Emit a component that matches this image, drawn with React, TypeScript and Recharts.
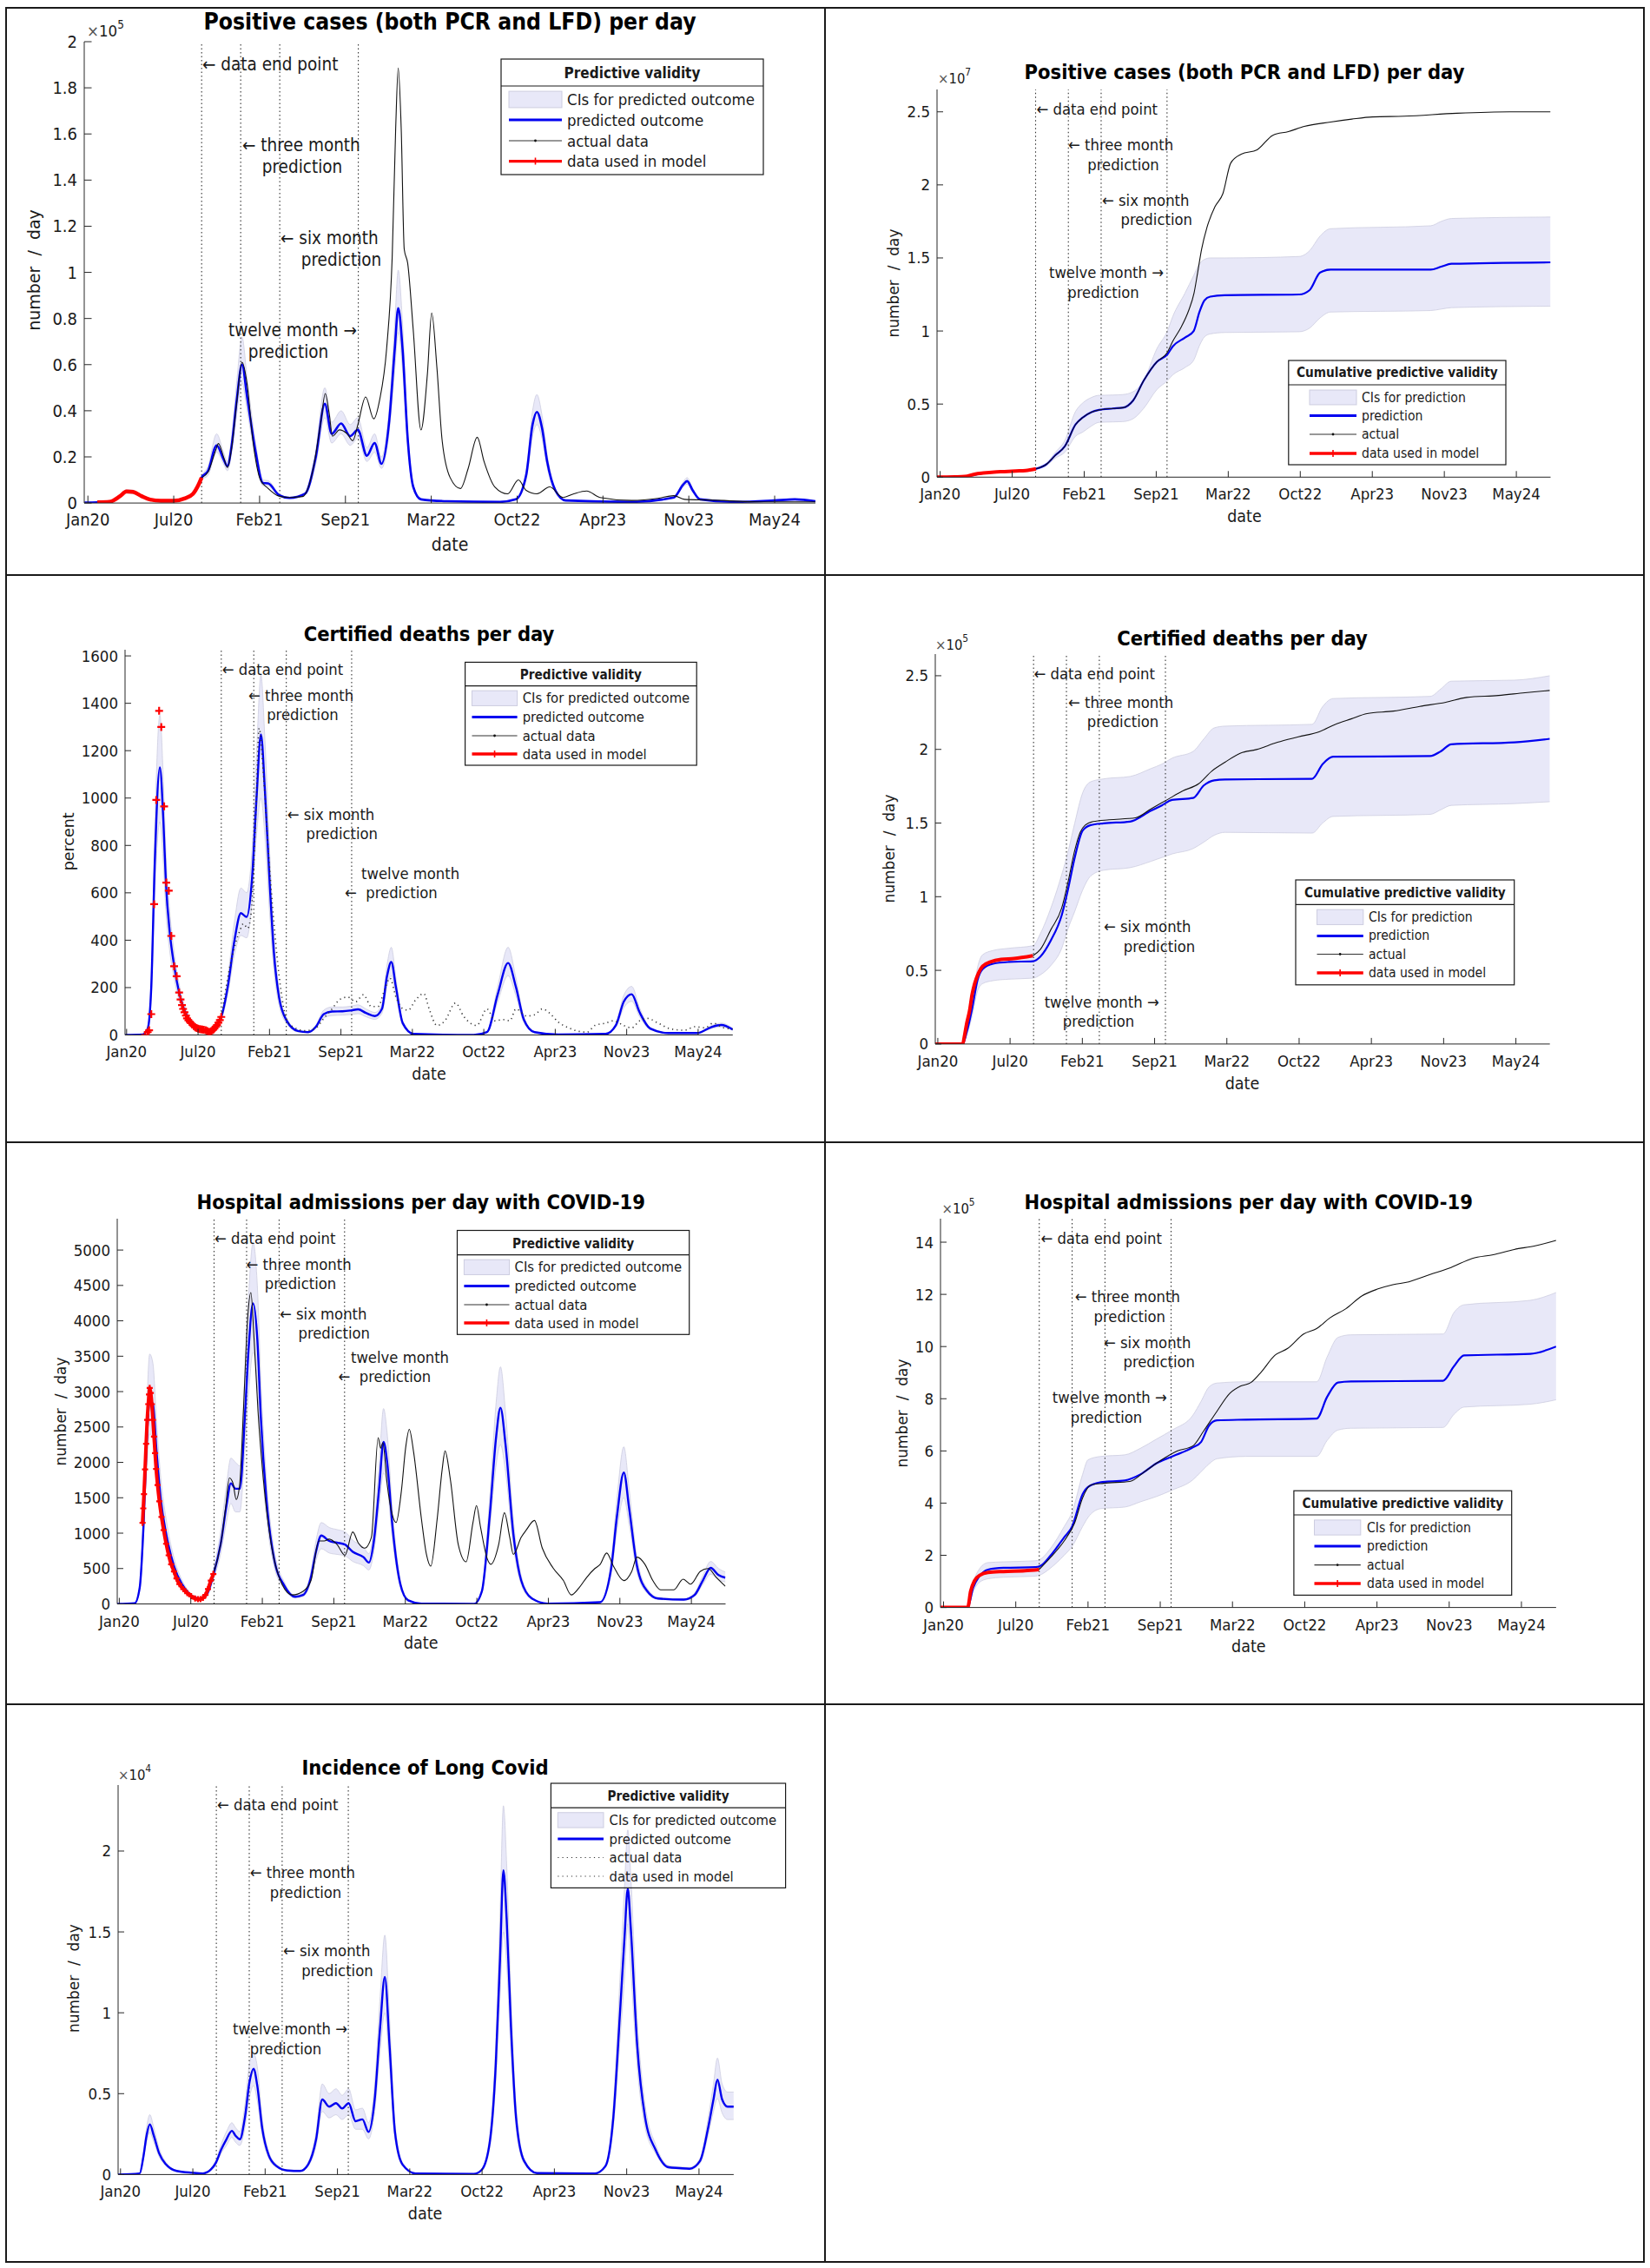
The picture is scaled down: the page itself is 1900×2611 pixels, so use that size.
import React from 'react';
import { Area, ComposedChart, Line, ReferenceLine, XAxis, YAxis } from 'recharts';

// ─── shared axis data ────────────────────────────────────────────────────────
// x is "days since 1 Jan 2020"
const xTickDays = [10, 210, 410, 610, 810, 1010, 1210, 1410, 1610];
const xTickLabels = ['Jan20', 'Jul20', 'Feb21', 'Sep21', 'Mar22', 'Oct22', 'Apr23', 'Nov23', 'May24'];
// data end point, then three, six and twelve month horizons
const milestoneDays = [275, 366, 457, 640];

type Pt = [number, number];
// day, predicted, CI low, CI high
type PredPt = [number, number, number, number];

// ─── positive cases per day (x1e5) ───────────────────────────────────────────
const casesUsed: Pt[] = [
  [32, 0.003], [60, 0.005], [85, 0.03], [100, 0.05], [115, 0.048], [135, 0.03], [155, 0.015],
  [180, 0.01], [210, 0.01], [235, 0.02], [255, 0.04], [268, 0.08], [275, 0.11],
];
const casesPred: PredPt[] = [
  [2, 0.002, 0.002, 0.002], [32, 0.003, 0.003, 0.004], [60, 0.005, 0.004, 0.006], [85, 0.03, 0.025, 0.035],
  [100, 0.05, 0.042, 0.058], [115, 0.048, 0.04, 0.056], [135, 0.03, 0.025, 0.035], [155, 0.015, 0.013, 0.018],
  [180, 0.01, 0.008, 0.012], [210, 0.01, 0.008, 0.012], [235, 0.02, 0.017, 0.024], [255, 0.04, 0.034, 0.047],
  [268, 0.08, 0.07, 0.09], [275, 0.11, 0.1, 0.12], [290, 0.14, 0.12, 0.16], [310, 0.25, 0.22, 0.3],
  [326, 0.19, 0.17, 0.22], [335, 0.16, 0.14, 0.18], [345, 0.25, 0.22, 0.29], [357, 0.45, 0.39, 0.53],
  [369, 0.6, 0.52, 0.72], [381, 0.46, 0.4, 0.54], [400, 0.23, 0.2, 0.27], [418, 0.087, 0.075, 0.1],
  [430, 0.085, 0.074, 0.097], [455, 0.035, 0.03, 0.04], [480, 0.022, 0.019, 0.026], [516, 0.04, 0.035, 0.046],
  [541, 0.2, 0.17, 0.23], [562, 0.43, 0.37, 0.5], [578, 0.3, 0.26, 0.35], [600, 0.345, 0.3, 0.4],
  [621, 0.29, 0.25, 0.34], [639, 0.317, 0.28, 0.37], [660, 0.205, 0.18, 0.24], [678, 0.26, 0.22, 0.3],
  [694, 0.17, 0.15, 0.2], [712, 0.356, 0.31, 0.41], [725, 0.67, 0.58, 0.78], [733, 0.845, 0.74, 1.01],
  [743, 0.67, 0.58, 0.78], [755, 0.28, 0.24, 0.32], [768, 0.07, 0.06, 0.08], [786, 0.016, 0.014, 0.018],
  [847, 0.008, 0.007, 0.009], [970, 0.005, 0.004, 0.006], [1007, 0.016, 0.014, 0.018], [1031, 0.12, 0.1, 0.14],
  [1046, 0.34, 0.29, 0.4], [1056, 0.395, 0.34, 0.47], [1068, 0.325, 0.28, 0.38], [1080, 0.18, 0.155, 0.21],
  [1099, 0.055, 0.047, 0.064], [1123, 0.011, 0.01, 0.013], [1277, 0.005, 0.004, 0.006], [1375, 0.024, 0.02, 0.028],
  [1397, 0.08, 0.07, 0.092], [1406, 0.095, 0.082, 0.11], [1419, 0.055, 0.047, 0.064], [1436, 0.016, 0.014, 0.019],
  [1522, 0.005, 0.004, 0.006], [1609, 0.011, 0.01, 0.013], [1657, 0.016, 0.014, 0.019], [1705, 0.008, 0.007, 0.009],
];
const casesActual: Pt[] = [
  [275, 0.11], [290, 0.135], [308, 0.23], [314, 0.258], [326, 0.2], [335, 0.154], [345, 0.24], [357, 0.44],
  [369, 0.61], [381, 0.515], [394, 0.277], [412, 0.1], [430, 0.063], [455, 0.03], [480, 0.024], [510, 0.028],
  [535, 0.15], [553, 0.356], [563, 0.475], [572, 0.39], [580, 0.29], [596, 0.317], [614, 0.3], [627, 0.27],
  [639, 0.34], [657, 0.46], [676, 0.365], [690, 0.45], [706, 0.67], [719, 1.07], [727, 1.62], [733, 1.886],
  [740, 1.62], [747, 1.1], [755, 1.04], [768, 0.75], [786, 0.317], [801, 0.56], [811, 0.824], [823, 0.59],
  [835, 0.277], [854, 0.11], [878, 0.063], [896, 0.15], [917, 0.285], [933, 0.18], [958, 0.07], [988, 0.04],
  [1013, 0.1], [1031, 0.055], [1056, 0.04], [1086, 0.07], [1117, 0.024], [1142, 0.04], [1172, 0.052],
  [1203, 0.024], [1277, 0.011], [1338, 0.02], [1375, 0.032], [1400, 0.016], [1460, 0.013], [1583, 0.005],
  [1705, 0.005],
];

// ─── cumulative positive cases (x1e7) ────────────────────────────────────────
const cumCasesUsed: Pt[] = [
  [1, 0], [50, 0.002], [79, 0.005], [105, 0.02], [130, 0.028], [160, 0.035], [188, 0.038], [220, 0.042],
  [247, 0.045], [276, 0.057],
];
const cumCasesPred: PredPt[] = [
  [1, 0, 0, 0], [79, 0.005, 0.005, 0.005], [130, 0.028, 0.027, 0.03], [188, 0.038, 0.036, 0.04],
  [247, 0.045, 0.043, 0.048], [276, 0.057, 0.055, 0.06], [305, 0.088, 0.08, 0.095], [330, 0.15, 0.13, 0.17],
  [356, 0.21, 0.17, 0.25], [386, 0.36, 0.28, 0.45], [407, 0.41, 0.31, 0.51], [430, 0.445, 0.35, 0.545],
  [451, 0.46, 0.375, 0.56], [490, 0.47, 0.378, 0.562], [517, 0.475, 0.38, 0.565], [546, 0.525, 0.4, 0.585],
  [575, 0.66, 0.47, 0.66], [612, 0.79, 0.6, 0.88], [641, 0.84, 0.66, 1.0], [656, 0.895, 0.7, 1.1],
  [690, 0.955, 0.75, 1.26], [714, 1.0, 0.8, 1.38], [730, 1.13, 0.9, 1.46], [744, 1.21, 0.96, 1.49],
  [760, 1.235, 0.98, 1.5], [800, 1.245, 0.99, 1.5], [1007, 1.25, 0.995, 1.51], [1036, 1.28, 1.02, 1.55],
  [1065, 1.4, 1.09, 1.65], [1094, 1.42, 1.13, 1.7], [1372, 1.42, 1.14, 1.72], [1401, 1.44, 1.15, 1.75],
  [1430, 1.46, 1.16, 1.77], [1705, 1.47, 1.17, 1.78],
];
const cumCasesActual: Pt[] = [
  [276, 0.057], [305, 0.088], [330, 0.15], [356, 0.21], [386, 0.36], [407, 0.41], [430, 0.445], [451, 0.46],
  [490, 0.47], [517, 0.475], [546, 0.525], [575, 0.66], [612, 0.79], [640, 0.85], [656, 0.93], [680, 1.03],
  [700, 1.14], [715, 1.26], [725, 1.4], [736, 1.56], [751, 1.71], [773, 1.85], [795, 1.94], [817, 2.15],
  [846, 2.21], [890, 2.24], [934, 2.34], [977, 2.365], [1021, 2.4], [1094, 2.43], [1153, 2.45], [1211, 2.465],
  [1299, 2.47], [1445, 2.49], [1591, 2.5], [1705, 2.5],
];

// ─── certified deaths per day ────────────────────────────────────────────────
const deathsUsed: Pt[] = [
  [62, 0], [69, 12], [73, 20], [79, 88], [87, 552], [93, 992], [101, 1368], [107, 1300], [115, 965],
  [121, 643], [128, 609], [135, 418], [143, 290], [150, 248], [157, 179], [161, 150], [165, 126], [168, 110],
  [172, 96], [176, 82], [179, 70], [183, 62], [187, 55], [190, 50], [194, 44], [198, 38], [202, 32], [206, 29],
  [210, 27], [214, 25], [218, 24], [222, 23], [226, 22], [231, 20], [235, 17], [238, 14], [241, 12], [244, 13],
  [247, 16], [250, 20], [253, 23], [256, 28], [260, 35], [263, 42], [267, 52], [271, 63], [275, 76],
];
const deathsPred: PredPt[] = [
  [6, 0, 0, 0], [54, 2, 1, 3], [69, 27, 20, 35], [79, 202, 160, 250], [89, 734, 600, 880], [103, 1129, 900, 1350],
  [113, 900, 720, 1070], [120, 643, 520, 770], [131, 430, 350, 520], [143, 293, 240, 350], [157, 179, 145, 215],
  [172, 103, 85, 125], [194, 50, 40, 60], [216, 27, 22, 33], [238, 20, 16, 24], [260, 42, 35, 50],
  [275, 76, 65, 90], [293, 202, 170, 240], [312, 400, 340, 480], [330, 514, 420, 620], [346, 498, 410, 600],
  [361, 658, 560, 780], [374, 1008, 850, 1200], [386, 1269, 1000, 1520], [397, 1036, 840, 1250],
  [411, 628, 500, 760], [422, 354, 280, 430], [437, 157, 125, 190], [459, 58, 46, 70], [489, 17, 13, 21],
  [518, 12, 9, 15], [540, 35, 28, 42], [562, 88, 72, 105], [585, 99, 82, 118], [614, 100, 84, 118],
  [636, 103, 86, 121], [658, 108, 90, 127], [680, 93, 77, 110], [705, 80, 66, 95], [725, 111, 92, 131],
  [739, 248, 205, 295], [751, 308, 250, 370], [764, 202, 165, 240], [783, 50, 40, 60], [813, 5, 4, 6],
  [982, 0, 0, 0], [1019, 12, 10, 15], [1049, 172, 140, 205], [1078, 304, 250, 370], [1100, 202, 165, 240],
  [1122, 65, 53, 78], [1152, 12, 10, 15], [1218, 2, 2, 3], [1351, 5, 4, 6], [1380, 42, 34, 50],
  [1402, 141, 115, 168], [1424, 172, 142, 205], [1446, 96, 78, 115], [1476, 27, 22, 32], [1527, 8, 6, 10],
  [1608, 8, 6, 10], [1645, 32, 26, 38], [1675, 42, 34, 50], [1707, 23, 19, 28],
];
const deathsActual: Pt[] = [
  [275, 76], [305, 330], [327, 440], [337, 470], [349, 450], [359, 520], [371, 900], [381, 1295], [393, 1100],
  [408, 750], [422, 480], [437, 250], [459, 60], [481, 30], [511, 18], [540, 30], [562, 70], [585, 110],
  [607, 150], [629, 160], [651, 140], [673, 170], [695, 120], [714, 120], [732, 190], [747, 240], [764, 160],
  [784, 110], [798, 105], [820, 150], [842, 175], [857, 110], [879, 40], [901, 60], [931, 135], [953, 80],
  [990, 40], [1019, 110], [1041, 60], [1063, 65], [1083, 60], [1100, 110], [1130, 80], [1152, 85], [1174, 110],
  [1196, 90], [1218, 55], [1248, 30], [1277, 15], [1299, 12], [1321, 40], [1351, 50], [1373, 60], [1402, 40],
  [1424, 30], [1446, 60], [1468, 70], [1498, 50], [1535, 25], [1572, 20], [1601, 35], [1630, 30], [1652, 50],
  [1682, 30], [1707, 25],
];

// ─── cumulative certified deaths (x1e5) ──────────────────────────────────────
const cumDeathsUsed: Pt[] = [
  [3, 0], [40, 0], [79, 0], [83, 0.044], [90, 0.14], [98, 0.227], [105, 0.337], [112, 0.41], [123, 0.484],
  [134, 0.528], [156, 0.557], [185, 0.574], [221, 0.58], [273, 0.599],
];
const cumDeathsPred: PredPt[] = [
  [3, 0, 0, 0], [79, 0, 0, 0], [90, 0.08, 0.06, 0.1], [105, 0.24, 0.19, 0.29], [120, 0.435, 0.36, 0.52],
  [134, 0.508, 0.41, 0.606], [163, 0.545, 0.43, 0.635], [207, 0.557, 0.44, 0.65], [273, 0.562, 0.447, 0.667],
  [294, 0.594, 0.47, 0.75], [323, 0.704, 0.533, 0.924], [353, 0.875, 0.65, 1.15], [370, 1.046, 0.78, 1.3],
  [389, 1.266, 0.9, 1.5], [411, 1.449, 1.046, 1.706], [433, 1.486, 1.14, 1.78], [469, 1.498, 1.18, 1.8],
  [542, 1.51, 1.197, 1.816], [600, 1.584, 1.24, 1.87], [630, 1.62, 1.266, 1.9], [658, 1.657, 1.29, 1.94],
  [717, 1.67, 1.327, 1.987], [746, 1.755, 1.37, 2.07], [775, 1.79, 1.417, 2.146], [805, 1.796, 1.437, 2.158],
  [1046, 1.8, 1.432, 2.17], [1075, 1.9, 1.5, 2.29], [1104, 1.95, 1.545, 2.345], [1373, 1.955, 1.559, 2.36],
  [1402, 1.987, 1.59, 2.41], [1431, 2.035, 1.62, 2.463], [1606, 2.048, 1.632, 2.47], [1704, 2.072, 1.645, 2.5],
];
const cumDeathsActual: Pt[] = [
  [273, 0.599], [294, 0.643], [323, 0.777], [353, 0.924], [370, 1.095], [389, 1.315], [404, 1.437],
  [418, 1.486], [440, 1.51], [484, 1.522], [557, 1.535], [600, 1.596], [644, 1.657], [688, 1.718],
  [732, 1.767], [768, 1.852], [805, 1.913], [848, 1.975], [892, 1.999], [950, 2.048], [1008, 2.085],
  [1067, 2.121], [1110, 2.17], [1154, 2.207], [1198, 2.243], [1271, 2.26], [1344, 2.292], [1416, 2.32],
  [1474, 2.353], [1562, 2.366], [1635, 2.385], [1704, 2.4],
];

// ─── hospital admissions per day ─────────────────────────────────────────────
const hospUsed: Pt[] = [
  [75, 1145], [77, 1350], [79, 1551], [82, 1900], [85, 2263], [88, 2600], [91, 2823], [93, 2960], [95, 3052],
  [98, 2980], [101, 2823], [104, 2600], [107, 2365], [110, 2130], [113, 1907], [117, 1680], [122, 1450],
  [128, 1230], [134, 1043], [141, 850], [148, 687], [155, 560], [163, 458], [170, 360], [178, 280], [189, 210],
  [200, 153], [211, 110], [222, 76], [230, 68], [237, 66], [244, 85], [251, 127], [258, 210], [266, 331],
  [273, 422],
];
const hospPred: PredPt[] = [
  [4, 0, 0, 0], [53, 10, 8, 12], [67, 229, 190, 270], [78, 1145, 950, 1350], [86, 2213, 1850, 2650],
  [95, 2874, 2400, 3530], [104, 2823, 2350, 3400], [114, 2162, 1800, 2600], [126, 1475, 1230, 1780],
  [141, 992, 830, 1200], [163, 534, 450, 650], [185, 280, 235, 340], [207, 137, 115, 165], [234, 76, 64, 92],
  [254, 127, 107, 153], [273, 407, 340, 490], [295, 890, 745, 1080], [310, 1399, 1170, 1690],
  [322, 1704, 1420, 2060], [335, 1628, 1300, 2000], [347, 1628, 1300, 1950], [362, 2721, 2250, 3300],
  [372, 3637, 3000, 4400], [384, 4247, 3550, 5100], [396, 3739, 3100, 4500], [406, 2620, 2180, 3150],
  [421, 1500, 1250, 1800], [443, 636, 530, 765], [472, 254, 210, 305], [502, 102, 85, 122], [524, 127, 106, 153],
  [546, 381, 318, 460], [560, 737, 615, 890], [575, 966, 780, 1150], [597, 890, 720, 1080], [619, 865, 700, 1050],
  [641, 839, 680, 1020], [663, 737, 600, 900], [693, 661, 540, 800], [708, 585, 480, 710], [722, 890, 740, 1070],
  [737, 1653, 1380, 1990], [749, 2289, 1850, 2760], [759, 2009, 1670, 2420], [774, 1094, 910, 1320],
  [796, 280, 233, 337], [818, 51, 42, 61], [855, 5, 4, 6], [1002, 0, 0, 0], [1024, 178, 148, 215],
  [1046, 1246, 1040, 1500], [1064, 2365, 1970, 2850], [1076, 2772, 2250, 3350], [1090, 2263, 1880, 2720],
  [1112, 992, 825, 1195], [1134, 331, 275, 400], [1164, 76, 63, 92], [1208, 5, 4, 6], [1355, 25, 21, 30],
  [1385, 483, 400, 580], [1402, 1246, 1040, 1500], [1421, 1857, 1500, 2220], [1436, 1348, 1120, 1620],
  [1458, 534, 445, 645], [1487, 178, 148, 215], [1517, 76, 63, 92], [1589, 61, 51, 74], [1619, 127, 106, 153],
  [1642, 331, 276, 400], [1664, 509, 420, 600], [1686, 407, 340, 500], [1705, 371, 310, 450],
];
const hospActual: Pt[] = [
  [273, 422], [295, 890], [307, 1348], [318, 1780], [328, 1704], [337, 1475], [347, 1704], [357, 2721],
  [369, 4044], [378, 4400], [387, 3739], [398, 2721], [413, 1755], [435, 839], [465, 280], [494, 127],
  [524, 178], [546, 331], [568, 890], [583, 890], [597, 916], [619, 839], [641, 687], [663, 1017], [678, 865],
  [696, 788], [715, 941], [734, 2350], [741, 2200], [747, 2280], [759, 1700], [774, 1250], [784, 1150],
  [799, 1600], [811, 2213], [821, 2467], [833, 2150], [855, 1200], [869, 700], [881, 534], [899, 1200],
  [913, 1900], [921, 2162], [936, 1755], [958, 839], [980, 595], [999, 1145], [1009, 1389], [1020, 1094],
  [1039, 640], [1049, 560], [1071, 839], [1087, 1287], [1102, 941], [1112, 700], [1134, 941], [1149, 1050],
  [1171, 1180], [1193, 788], [1223, 509], [1252, 331], [1274, 127], [1296, 229], [1318, 380], [1340, 500],
  [1355, 560], [1373, 720], [1392, 534], [1421, 330], [1443, 458], [1458, 661], [1480, 560], [1502, 331],
  [1524, 200], [1561, 200], [1587, 350], [1608, 280], [1635, 460], [1657, 500], [1679, 380], [1705, 250],
];

// ─── cumulative hospital admissions (x1e5) ───────────────────────────────────
const cumHospUsed: Pt[] = [
  [2, 0], [40, 0], [77, 0], [85, 0.62], [96, 1.03], [111, 1.24], [133, 1.34], [176, 1.38], [235, 1.41],
  [274, 1.45],
];
const cumHospPred: PredPt[] = [
  [2, 0, 0, 0], [77, 0, 0, 0], [92, 0.76, 0.6, 0.95], [108, 1.17, 0.95, 1.45], [133, 1.45, 1.1, 1.72],
  [176, 1.52, 1.16, 1.75], [264, 1.545, 1.2, 1.79], [278, 1.59, 1.25, 1.85], [307, 2.0, 1.52, 2.28],
  [344, 2.69, 2.0, 3.1], [366, 3.1, 2.34, 3.66], [395, 4.34, 3.1, 5.1], [410, 4.62, 3.45, 5.66],
  [446, 4.8, 3.79, 5.79], [512, 4.87, 3.85, 5.85], [555, 5.1, 4.05, 6.1], [599, 5.52, 4.25, 6.45],
  [643, 5.79, 4.5, 6.8], [701, 6.14, 4.9, 7.38], [723, 6.34, 5.2, 7.9], [745, 6.97, 5.5, 8.45],
  [767, 7.17, 5.7, 8.6], [847, 7.2, 5.79, 8.65], [1043, 7.24, 5.79, 8.65], [1072, 8.07, 6.4, 9.6],
  [1102, 8.62, 6.8, 10.35], [1138, 8.66, 6.87, 10.45], [1393, 8.69, 6.9, 10.48], [1423, 9.24, 7.4, 11.3],
  [1451, 9.66, 7.68, 11.6], [1634, 9.72, 7.79, 11.77], [1706, 10.0, 7.96, 12.07],
];
const cumHospActual: Pt[] = [
  [274, 1.45], [307, 1.93], [344, 2.55], [373, 3.24], [395, 4.2], [417, 4.69], [453, 4.76], [526, 4.83],
  [570, 5.24], [614, 5.66], [658, 6.0], [701, 6.2], [730, 6.76], [767, 7.52], [803, 8.21], [832, 8.48],
  [861, 8.62], [890, 9.03], [927, 9.66], [963, 9.93], [1007, 10.48], [1043, 10.69], [1080, 11.1],
  [1124, 11.45], [1167, 11.93], [1211, 12.2], [1254, 12.37], [1298, 12.48], [1357, 12.76], [1415, 13.03],
  [1474, 13.38], [1532, 13.52], [1590, 13.72], [1648, 13.86], [1706, 14.07],
];

// ─── incidence of long covid (x1e4) ──────────────────────────────────────────
const longCovidPred: PredPt[] = [
  [3, 0, 0, 0], [63, 0.007, 0.005, 0.009], [73, 0.107, 0.09, 0.13], [82, 0.24, 0.2, 0.29], [91, 0.31, 0.26, 0.37],
  [102, 0.24, 0.2, 0.29], [117, 0.13, 0.11, 0.16], [136, 0.062, 0.052, 0.075], [165, 0.022, 0.018, 0.027],
  [208, 0.011, 0.009, 0.013], [238, 0.007, 0.006, 0.009], [259, 0.029, 0.024, 0.035], [274, 0.074, 0.062, 0.09],
  [288, 0.152, 0.13, 0.185], [303, 0.218, 0.18, 0.265], [318, 0.27, 0.23, 0.32], [328, 0.24, 0.2, 0.29],
  [340, 0.218, 0.18, 0.265], [354, 0.352, 0.29, 0.43], [367, 0.575, 0.48, 0.69], [378, 0.653, 0.55, 0.75],
  [388, 0.553, 0.46, 0.67], [402, 0.285, 0.24, 0.345], [420, 0.118, 0.1, 0.14], [442, 0.051, 0.043, 0.062],
  [471, 0.025, 0.02, 0.03], [507, 0.022, 0.018, 0.027], [529, 0.062, 0.052, 0.075], [551, 0.218, 0.18, 0.265],
  [568, 0.464, 0.39, 0.56], [587, 0.42, 0.35, 0.5], [606, 0.441, 0.37, 0.53], [623, 0.408, 0.34, 0.49],
  [641, 0.441, 0.37, 0.53], [660, 0.33, 0.28, 0.4], [679, 0.341, 0.28, 0.41], [696, 0.263, 0.22, 0.32],
  [713, 0.464, 0.39, 0.56], [728, 0.91, 0.76, 1.1], [741, 1.222, 1.0, 1.48], [754, 0.8, 0.67, 0.97],
  [769, 0.263, 0.22, 0.32], [790, 0.062, 0.052, 0.075], [826, 0.007, 0.006, 0.009], [987, 0.004, 0.003, 0.005],
  [1009, 0.029, 0.024, 0.035], [1031, 0.196, 0.16, 0.24], [1048, 0.687, 0.57, 0.83], [1060, 1.356, 1.12, 1.64],
  [1069, 1.88, 1.5, 2.28], [1078, 1.58, 1.3, 1.92], [1090, 0.91, 0.76, 1.1], [1104, 0.352, 0.29, 0.43],
  [1126, 0.085, 0.07, 0.1], [1162, 0.009, 0.007, 0.011], [1322, 0.007, 0.006, 0.009], [1351, 0.051, 0.043, 0.062],
  [1373, 0.352, 0.29, 0.43], [1392, 1.02, 0.85, 1.24], [1404, 1.467, 1.22, 1.78], [1413, 1.768, 1.55, 2.13],
  [1421, 1.534, 1.28, 1.86], [1439, 0.8, 0.67, 0.97], [1461, 0.352, 0.29, 0.43], [1490, 0.152, 0.13, 0.185],
  [1526, 0.045, 0.038, 0.055], [1555, 0.04, 0.034, 0.048], [1584, 0.036, 0.03, 0.044], [1613, 0.085, 0.07, 0.1],
  [1635, 0.285, 0.24, 0.345], [1650, 0.464, 0.39, 0.56], [1661, 0.586, 0.47, 0.72], [1674, 0.464, 0.38, 0.56],
  [1689, 0.42, 0.34, 0.51], [1706, 0.42, 0.34, 0.51],
];

const dailyLegend = ['CIs for predicted outcome', 'predicted outcome', 'actual data', 'data used in model'];
const cumulativeLegend = ['CIs for prediction', 'prediction', 'actual', 'data used in model'];

// ─── styling ─────────────────────────────────────────────────────────────────
const FONT = "'DejaVu Sans Condensed', 'DejaVu Sans', sans-serif";
const WIDE_FONT = "'DejaVu Sans', Verdana, sans-serif";
const INK = '#1a1a1a';
const AXIS = '#262626';
const BLUE = '#0000f0';
const RED = '#ff0000';
const BAND = '#e8e8f8';
const BAND_EDGE = '#cdcde0';

type Note = [string, number, number, 'start' | 'middle' | 'end'];

interface LegendSpec {
  x0: number; x1: number; y0: number; y1: number;
  titleY: number; sepY: number; rows: number[];
  sx0: number; sx1: number; tx: number;
  fs: number; titleFs: number; title: string; labels: string[];
  dottedData?: boolean;
}

interface Panel {
  id: string;
  pred: PredPt[];
  actual?: Pt[];
  used?: Pt[];
  plot: { l: number; t: number; r: number; b: number };
  xDomain: [number, number];
  yDomain: [number, number];
  yTicks: number[];
  tickFs: number; tickLen: number; xTickDy: number;
  blueW: number; redW: number;
  actualDotted?: boolean;
  usedMarker?: number; // half-size of the '+' marker, when drawn
  title: string; titlePos: [number, number]; titleFs: number;
  exp?: string; expPos?: [number, number]; expFs?: number;
  yLabel: string; yLabelPos: [number, number]; yLabelFs: number;
  xLabelPos: [number, number]; xLabelFs: number;
  notes: Note[]; noteFs: number;
  legend: LegendSpec;
}

const NUMBER_DAY = 'number\u00a0 /\u00a0 day';

const panels: Panel[] = [
  {
    id: 'cases', pred: casesPred, actual: casesActual, used: casesUsed,
    plot: { l: 97, t: 47.6, r: 939, b: 578.7 }, xDomain: [1.5, 1705], yDomain: [0, 2],
    yTicks: [0, 0.2, 0.4, 0.6, 0.8, 1, 1.2, 1.4, 1.6, 1.8, 2],
    tickFs: 20, tickLen: 8.5, xTickDy: 19, blueW: 2.6, redW: 4.5,
    title: 'Positive cases (both PCR and LFD) per day', titlePos: [518, 25], titleFs: 26.3,
    exp: '5', expPos: [100, 35], expFs: 18.5,
    yLabel: NUMBER_DAY, yLabelPos: [39, 311], yLabelFs: 19,
    xLabelPos: [518, 627], xLabelFs: 21, noteFs: 20.5,
    notes: [
      ['\u2190 data end point', 233, 73.6, 'start'],
      ['\u2190 three month', 279, 167, 'start'],
      ['prediction', 348, 192, 'middle'],
      ['\u2190 six month', 323, 273.6, 'start'],
      ['prediction', 393, 299, 'middle'],
      ['twelve month \u2192', 411, 380, 'end'],
      ['prediction', 332, 405, 'middle'],
    ],
    legend: {
      x0: 577, x1: 879, y0: 68, y1: 201, titleY: 84, sepY: 99, rows: [114.5, 138, 162, 185.6],
      sx0: 586, sx1: 647, tx: 653, fs: 18.5, titleFs: 17, title: 'Predictive validity', labels: dailyLegend,
    },
  },
  {
    id: 'cumCases', pred: cumCasesPred, actual: cumCasesActual, used: cumCasesUsed,
    plot: { l: 1078.5, t: 103, r: 1785, b: 549.3 }, xDomain: [1.3, 1705], yDomain: [0, 2.653],
    yTicks: [0, 0.5, 1, 1.5, 2, 2.5],
    tickFs: 18.5, tickLen: 7, xTickDy: 19.5, blueW: 2.2, redW: 4,
    title: 'Positive cases (both PCR and LFD) per day', titlePos: [1433, 83], titleFs: 23.5,
    exp: '7', expPos: [1080, 89.7], expFs: 16.5,
    yLabel: NUMBER_DAY, yLabelPos: [1028.8, 326], yLabelFs: 17,
    xLabelPos: [1433, 594.3], xLabelFs: 19.5, noteFs: 18.3,
    notes: [
      ['\u2190 data end point', 1193.6, 125, 'start'],
      ['\u2190 three month', 1230, 166, 'start'],
      ['prediction', 1293.5, 189, 'middle'],
      ['\u2190 six month', 1269, 230, 'start'],
      ['prediction', 1331.7, 252.5, 'middle'],
      ['twelve month \u2192', 1340, 313.6, 'end'],
      ['prediction', 1270.5, 336, 'middle'],
    ],
    legend: {
      x0: 1483.8, x1: 1734, y0: 415, y1: 535, titleY: 429, sepY: 443, rows: [457.5, 478.6, 500, 522],
      sx0: 1508, sx1: 1562, tx: 1568, fs: 15.6, titleFs: 15.2, title: 'Cumulative predictive validity',
      labels: cumulativeLegend,
    },
  },
  {
    id: 'deaths', pred: deathsPred, actual: deathsActual, used: deathsUsed,
    plot: { l: 143.6, t: 748.3, r: 843.4, b: 1191.8 }, xDomain: [5.6, 1707], yDomain: [0, 1626],
    yTicks: [0, 200, 400, 600, 800, 1000, 1200, 1400, 1600],
    tickFs: 18.5, tickLen: 7, xTickDy: 19.5, blueW: 2.4, redW: 0, actualDotted: true, usedMarker: 4.5,
    title: 'Certified deaths per day', titlePos: [494, 729.6], titleFs: 23.5,
    yLabel: 'percent', yLabelPos: [78.8, 968.8], yLabelFs: 17.5,
    xLabelPos: [494, 1236], xLabelFs: 19.5, noteFs: 18.3,
    notes: [
      ['\u2190 data end point', 255.7, 770.7, 'start'],
      ['\u2190 three month', 286, 800, 'start'],
      ['prediction', 348.4, 822.5, 'middle'],
      ['\u2190 six month', 330.8, 937, 'start'],
      ['prediction', 393.8, 959, 'middle'],
      ['twelve month', 472.6, 1005, 'middle'],
      ['\u2190  prediction', 397, 1027.6, 'start'],
    ],
    legend: {
      x0: 535.6, x1: 802.2, y0: 762.4, y1: 881, titleY: 776.5, sepY: 789.7, rows: [803.8, 825.4, 847, 868],
      sx0: 543.5, sx1: 595.6, tx: 601.7, fs: 16.5, titleFs: 15.2, title: 'Predictive validity', labels: dailyLegend,
    },
  },
  {
    id: 'cumDeaths', pred: cumDeathsPred, actual: cumDeathsActual, used: cumDeathsUsed,
    plot: { l: 1077.2, t: 753.3, r: 1784.9, b: 1202.2 }, xDomain: [3, 1704], yDomain: [0, 2.647],
    yTicks: [0, 0.5, 1, 1.5, 2, 2.5],
    tickFs: 18.5, tickLen: 7, xTickDy: 19.5, blueW: 2.2, redW: 4,
    title: 'Certified deaths per day', titlePos: [1430.5, 734.6], titleFs: 23.5,
    exp: '5', expPos: [1077, 742], expFs: 16.5,
    yLabel: NUMBER_DAY, yLabelPos: [1024, 977], yLabelFs: 17,
    xLabelPos: [1430.5, 1247.8], xLabelFs: 19.5, noteFs: 18.3,
    notes: [
      ['\u2190 data end point', 1190.5, 775.2, 'start'],
      ['\u2190 three month', 1230, 808, 'start'],
      ['prediction', 1293, 830.8, 'middle'],
      ['\u2190 six month', 1271, 1066, 'start'],
      ['prediction', 1335, 1089, 'middle'],
      ['twelve month \u2192', 1334.7, 1153, 'end'],
      ['prediction', 1265, 1175, 'middle'],
    ],
    legend: {
      x0: 1492, x1: 1743.7, y0: 1013, y1: 1133.8, titleY: 1027.7, sepY: 1041.3, rows: [1055.8, 1077.4, 1098.5, 1120],
      sx0: 1516.5, sx1: 1569.8, tx: 1575.9, fs: 15.6, titleFs: 15.2, title: 'Cumulative predictive validity',
      labels: cumulativeLegend,
    },
  },
  {
    id: 'hosp', pred: hospPred, actual: hospActual, used: hospUsed,
    plot: { l: 134.5, t: 1403.3, r: 835, b: 1846.8 }, xDomain: [4.2, 1705.6], yDomain: [0, 5443],
    yTicks: [0, 500, 1000, 1500, 2000, 2500, 3000, 3500, 4000, 4500, 5000],
    tickFs: 18.5, tickLen: 7, xTickDy: 19.5, blueW: 2.4, redW: 4, usedMarker: 3.5,
    title: 'Hospital admissions per day with COVID-19', titlePos: [484.7, 1383.8], titleFs: 23.5,
    yLabel: NUMBER_DAY, yLabelPos: [69.7, 1625], yLabelFs: 17,
    xLabelPos: [484.7, 1891], xLabelFs: 19.5, noteFs: 18.3,
    notes: [
      ['\u2190 data end point', 247, 1425.2, 'start'],
      ['\u2190 three month', 283.6, 1455, 'start'],
      ['prediction', 346, 1477, 'middle'],
      ['\u2190 six month', 322, 1512.3, 'start'],
      ['prediction', 384.7, 1534.7, 'middle'],
      ['twelve month', 460.5, 1562, 'middle'],
      ['\u2190  prediction', 389.6, 1584.4, 'start'],
    ],
    legend: {
      x0: 526.5, x1: 793.7, y0: 1416.5, y1: 1536.3, titleY: 1431.5, sepY: 1444.7, rows: [1458.8, 1480.4, 1502, 1523],
      sx0: 534.4, sx1: 586.5, tx: 592.6, fs: 16.5, titleFs: 15.2, title: 'Predictive validity', labels: dailyLegend,
    },
  },
  {
    id: 'cumHosp', pred: cumHospPred, actual: cumHospActual, used: cumHospUsed,
    plot: { l: 1083.3, t: 1403.3, r: 1792.2, b: 1850.9 }, xDomain: [1.6, 1706], yDomain: [0, 14.9],
    yTicks: [0, 2, 4, 6, 8, 10, 12, 14],
    tickFs: 18.5, tickLen: 7, xTickDy: 19.5, blueW: 2.2, redW: 4,
    title: 'Hospital admissions per day with COVID-19', titlePos: [1437.8, 1383.8], titleFs: 23.5,
    exp: '5', expPos: [1084.5, 1391], expFs: 16.5,
    yLabel: NUMBER_DAY, yLabelPos: [1039, 1627], yLabelFs: 17,
    xLabelPos: [1437.8, 1895.7], xLabelFs: 19.5, noteFs: 18.3,
    notes: [
      ['\u2190 data end point', 1198.4, 1425.2, 'start'],
      ['\u2190 three month', 1237.8, 1492.4, 'start'],
      ['prediction', 1300.8, 1515, 'middle'],
      ['\u2190 six month', 1271, 1545, 'start'],
      ['prediction', 1334.7, 1567.8, 'middle'],
      ['twelve month \u2192', 1343.8, 1608.4, 'end'],
      ['prediction', 1274, 1631, 'middle'],
    ],
    legend: {
      x0: 1489.9, x1: 1740.7, y0: 1716.2, y1: 1836.4, titleY: 1730.7, sepY: 1744, rows: [1758.5, 1780, 1801.6, 1823],
      sx0: 1513.5, sx1: 1566.8, tx: 1574, fs: 15.6, titleFs: 15.2, title: 'Cumulative predictive validity',
      labels: cumulativeLegend,
    },
  },
  {
    id: 'longCovid', pred: longCovidPred,
    plot: { l: 135.7, t: 2054.7, r: 844.6, b: 2503.1 }, xDomain: [3.3, 1706], yDomain: [0, 2.408],
    yTicks: [0, 0.5, 1, 1.5, 2],
    tickFs: 18.5, tickLen: 7, xTickDy: 19.5, blueW: 2.4, redW: 3,
    title: 'Incidence of Long Covid', titlePos: [489.6, 2034.7], titleFs: 23.5,
    exp: '4', expPos: [136, 2043], expFs: 16.5,
    yLabel: NUMBER_DAY, yLabelPos: [84.8, 2277.6], yLabelFs: 17,
    xLabelPos: [489.6, 2548.7], xLabelFs: 19.5, noteFs: 18.3,
    notes: [
      ['\u2190 data end point', 250, 2077, 'start'],
      ['\u2190 three month', 287.8, 2155, 'start'],
      ['prediction', 352, 2178, 'middle'],
      ['\u2190 six month', 326, 2245.7, 'start'],
      ['prediction', 388.4, 2268, 'middle'],
      ['twelve month \u2192', 400, 2335.8, 'end'],
      ['prediction', 329, 2358.6, 'middle'],
    ],
    legend: {
      x0: 634.4, x1: 904.6, y0: 2053, y1: 2173.4, titleY: 2067.5, sepY: 2081.2, rows: [2095.4, 2117, 2138.5, 2160],
      sx0: 642.3, sx1: 695, tx: 701.6, fs: 16.5, titleFs: 15.2, title: 'Predictive validity', labels: dailyLegend,
      dottedData: true,
    },
  },
];

// ─── helpers ─────────────────────────────────────────────────────────────────

interface Row {
  day: number;
  pred?: number;
  ci?: [number, number];
  actual?: number;
  used?: number;
}

function buildRows(pred: PredPt[], actual?: Pt[], used?: Pt[]): Row[] {
  const map = new Map<number, Row>();
  const get = (d: number) => {
    let r = map.get(d);
    if (!r) {
      r = { day: d };
      map.set(d, r);
    }
    return r;
  };
  pred.forEach(([d, v, lo, hi]) => {
    const r = get(d);
    r.pred = v;
    r.ci = [lo, hi];
  });
  (actual ?? []).forEach(([d, v]) => {
    get(d).actual = v;
  });
  (used ?? []).forEach(([d, v]) => {
    get(d).used = v;
  });
  return [...map.values()].sort((a, b) => a.day - b.day);
}

// chart margins around the plot box
const ML = 70;
const MT = 26;
const MR = 12;
const MB = 50;

function makePlusDot(half: number) {
  return (props: any) => {
    const { cx, cy, index } = props;
    if (cx == null || cy == null || Number.isNaN(cy)) return <g key={`pd-${index}`} />;
    return (
      <path
        key={`pd-${index}`}
        d={`M${cx - half},${cy}H${cx + half}M${cx},${cy - half}V${cy + half}`}
        stroke={RED}
        strokeWidth={2.2}
        fill="none"
      />
    );
  };
}

function PanelChart({ p }: { p: Panel }) {
  const { l, t, r, b } = p.plot;
  const width = r - l + ML + MR;
  const height = b - t + MT + MB;
  const plotBottom = height - MB;
  const rows = buildRows(p.pred, p.actual, p.used);

  const xTick = (props: any) => {
    const x = props.x;
    const i = xTickDays.indexOf(props.payload?.value);
    return (
      <g>
        <line x1={x} x2={x} y1={plotBottom} y2={plotBottom - p.tickLen} stroke={AXIS} strokeWidth={1} />
        <text
          x={x}
          y={plotBottom + p.xTickDy}
          textAnchor="middle"
          dominantBaseline="central"
          fontFamily={FONT}
          fontSize={p.tickFs}
          fill={INK}
          style={{ fontStretch: 'condensed' }}
        >
          {i >= 0 ? xTickLabels[i] : ''}
        </text>
      </g>
    );
  };

  const yTick = (props: any) => {
    const y = props.y;
    return (
      <g>
        <line x1={ML} x2={ML + p.tickLen} y1={y} y2={y} stroke={AXIS} strokeWidth={1} />
        <text
          x={ML - 8}
          y={y}
          textAnchor="end"
          dominantBaseline="central"
          fontFamily={FONT}
          fontSize={p.tickFs}
          fill={INK}
          style={{ fontStretch: 'condensed' }}
        >
          {String(props.payload?.value)}
        </text>
      </g>
    );
  };

  return (
    <div style={{ position: 'absolute', left: l - ML, top: t - MT, width, height }}>
      <ComposedChart
        width={width}
        height={height}
        data={rows}
        margin={{ top: MT, right: MR, bottom: 0, left: ML - 60 }}
      >
        <XAxis
          type="number"
          dataKey="day"
          domain={p.xDomain}
          allowDataOverflow
          ticks={xTickDays}
          interval={0}
          height={MB}
          tickSize={0}
          tickLine={false}
          axisLine={{ stroke: AXIS, strokeWidth: 1 }}
          tick={xTick}
        />
        <YAxis
          type="number"
          domain={p.yDomain}
          allowDataOverflow
          ticks={p.yTicks}
          interval={0}
          width={60}
          tickSize={0}
          tickLine={false}
          axisLine={{ stroke: AXIS, strokeWidth: 1 }}
          tick={yTick}
        />
        <Area
          type="monotone"
          dataKey="ci"
          stroke={BAND_EDGE}
          strokeWidth={0.8}
          fill={BAND}
          fillOpacity={1}
          connectNulls
          dot={false}
          activeDot={false}
          isAnimationActive={false}
        />
        {milestoneDays.map((d) => (
          <ReferenceLine key={d} x={d} stroke="#333" strokeWidth={1.1} strokeDasharray="1.5 3" />
        ))}
        <Line
          type="monotone"
          dataKey="pred"
          stroke={BLUE}
          strokeWidth={p.blueW}
          connectNulls
          dot={false}
          activeDot={false}
          isAnimationActive={false}
        />
        {p.actual && (
          <Line
            type="monotone"
            dataKey="actual"
            stroke={p.actualDotted ? '#333' : '#111'}
            strokeWidth={p.actualDotted ? 1.6 : 1.1}
            strokeDasharray={p.actualDotted ? '1.2 4' : undefined}
            connectNulls
            dot={false}
            activeDot={false}
            isAnimationActive={false}
          />
        )}
        {p.used && (
          <Line
            type="monotone"
            dataKey="used"
            stroke={p.redW > 0 ? RED : 'none'}
            strokeWidth={p.redW}
            connectNulls
            dot={p.usedMarker ? makePlusDot(p.usedMarker) : false}
            activeDot={false}
            isAnimationActive={false}
          />
        )}
      </ComposedChart>
    </div>
  );
}

function Legend({ L }: { L: LegendSpec }) {
  const cx = (L.x0 + L.x1) / 2;
  const mid = (L.sx0 + L.sx1) / 2;
  const rowH = L.rows[1] - L.rows[0];
  const textProps = {
    fontFamily: FONT,
    fill: INK,
    dominantBaseline: 'central' as const,
    style: { fontStretch: 'condensed' as const },
  };
  return (
    <g>
      <rect x={L.x0} y={L.y0} width={L.x1 - L.x0} height={L.y1 - L.y0} fill="none" stroke={INK} strokeWidth={1.2} />
      <line x1={L.x0} x2={L.x1} y1={L.sepY} y2={L.sepY} stroke={INK} strokeWidth={1.2} />
      <text x={cx} y={L.titleY} textAnchor="middle" fontSize={L.titleFs} fontWeight="bold" {...textProps}>
        {L.title}
      </text>
      <rect
        x={L.sx0}
        y={L.rows[0] - rowH * 0.4}
        width={L.sx1 - L.sx0}
        height={rowH * 0.8}
        fill={BAND}
        stroke={BAND_EDGE}
        strokeWidth={1}
      />
      <line x1={L.sx0} x2={L.sx1} y1={L.rows[1]} y2={L.rows[1]} stroke={BLUE} strokeWidth={3} />
      {L.dottedData ? (
        <>
          <line x1={L.sx0} x2={L.sx1} y1={L.rows[2]} y2={L.rows[2]} stroke="#333" strokeWidth={1.2} strokeDasharray="1.2 4" />
          <line x1={L.sx0} x2={L.sx1} y1={L.rows[3]} y2={L.rows[3]} stroke="#333" strokeWidth={1.2} strokeDasharray="1.2 4" />
        </>
      ) : (
        <>
          <line x1={L.sx0} x2={L.sx1} y1={L.rows[2]} y2={L.rows[2]} stroke="#333" strokeWidth={1.2} />
          <circle cx={mid} cy={L.rows[2]} r={1.4} fill="#111" />
          <line x1={L.sx0} x2={L.sx1} y1={L.rows[3]} y2={L.rows[3]} stroke={RED} strokeWidth={3.4} />
          <path d={`M${mid - 4},${L.rows[3]}H${mid + 4}M${mid},${L.rows[3] - 4}V${L.rows[3] + 4}`} stroke={RED} strokeWidth={1.6} />
        </>
      )}
      {L.labels.map((lab, i) => (
        <text key={lab} x={L.tx} y={L.rows[i]} textAnchor="start" fontSize={L.fs} {...textProps}>
          {lab}
        </text>
      ))}
    </g>
  );
}

function PanelText({ p }: { p: Panel }) {
  const cond = { fontStretch: 'condensed' as const };
  return (
    <g>
      <text
        x={p.titlePos[0]}
        y={p.titlePos[1]}
        textAnchor="middle"
        dominantBaseline="central"
        fontFamily={FONT}
        fontSize={p.titleFs}
        fontWeight="bold"
        fill="#000"
        style={cond}
      >
        {p.title}
      </text>
      {p.exp && p.expPos && (
        <text x={p.expPos[0]} y={p.expPos[1]} dominantBaseline="central" fontFamily={FONT} fontSize={p.expFs} fill={INK} style={cond}>
          <tspan fill="#555">{'\u00d7'}</tspan>
          <tspan>10</tspan>
          <tspan dy={-7} fontSize={(p.expFs ?? 15) * 0.72}>
            {p.exp}
          </tspan>
        </text>
      )}
      <text
        x={p.yLabelPos[0]}
        y={p.yLabelPos[1]}
        textAnchor="middle"
        dominantBaseline="central"
        fontFamily={WIDE_FONT}
        fontSize={p.yLabelFs}
        fill={INK}
        transform={`rotate(-90 ${p.yLabelPos[0]} ${p.yLabelPos[1]})`}
      >
        {p.yLabel}
      </text>
      <text
        x={p.xLabelPos[0]}
        y={p.xLabelPos[1]}
        textAnchor="middle"
        dominantBaseline="central"
        fontFamily={FONT}
        fontSize={p.xLabelFs}
        fill={INK}
        style={cond}
      >
        date
      </text>
      {p.notes.map(([txt, x, y, anchor], i) => (
        <text
          key={i}
          x={x}
          y={y}
          textAnchor={anchor}
          dominantBaseline="central"
          fontFamily={FONT}
          fontSize={p.noteFs}
          fill={INK}
          style={{ ...cond, whiteSpace: 'pre' }}
        >
          {txt}
        </text>
      ))}
      <Legend L={p.legend} />
    </g>
  );
}

export default function App() {
  return (
    <div style={{ position: 'absolute', left: 0, top: 0, width: 1900, height: 2611, background: '#fff' }}>
      {panels.map((p) => (
        <PanelChart key={p.id} p={p} />
      ))}
      <svg
        width={1900}
        height={2611}
        style={{ position: 'absolute', left: 0, top: 0, pointerEvents: 'none' }}
      >
        {/* table frame around the seven figures */}
        <rect x={7} y={9} width={1886} height={2595} fill="none" stroke={INK} strokeWidth={2} />
        {[662, 1315, 1962].map((y) => (
          <line key={y} x1={7} x2={1893} y1={y} y2={y} stroke={INK} strokeWidth={2} />
        ))}
        <line x1={950} x2={950} y1={9} y2={2604} stroke={INK} strokeWidth={2} />
        {panels.map((p) => (
          <PanelText key={p.id} p={p} />
        ))}
      </svg>
    </div>
  );
}
